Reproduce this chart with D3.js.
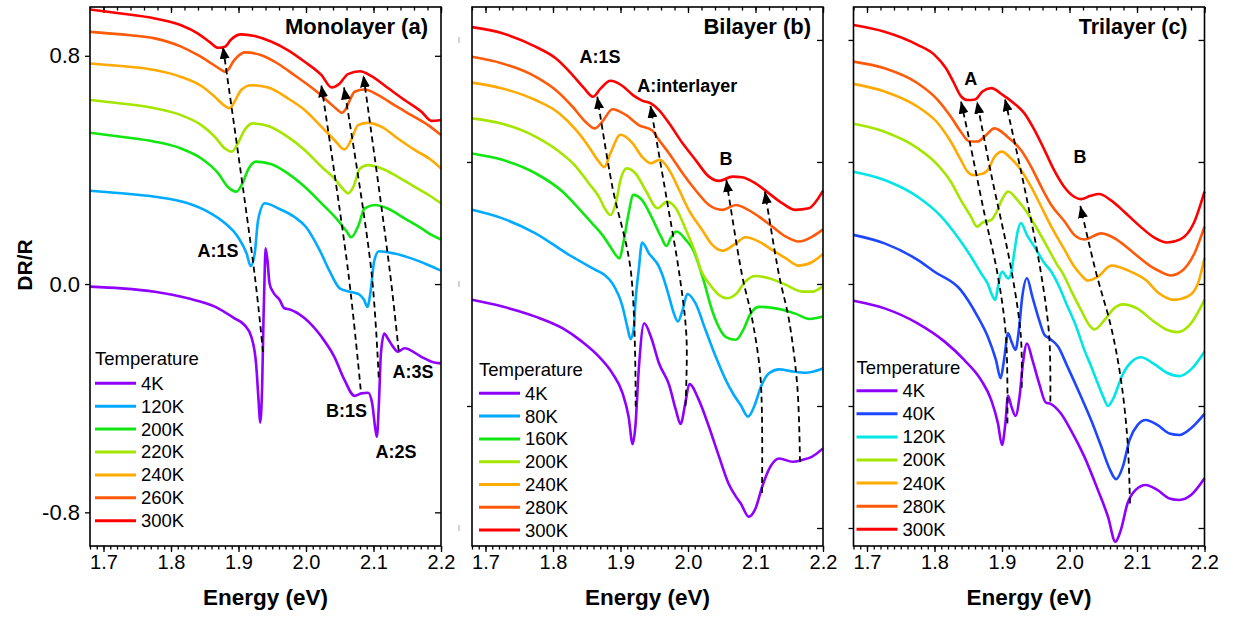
<!DOCTYPE html>
<html><head><meta charset="utf-8">
<script src="https://cdn.jsdelivr.net/npm/d3@7"></script>
<style>
body{margin:0;background:#fff;}
svg text{font-family:Arial,"Liberation Sans",sans-serif;}
</style>
</head><body>
<svg id="chart" width="1233" height="619"></svg>
<script>
// ---------- tick labels / categories ----------
const energyTicks = [1.7, 1.8, 1.9, 2.0, 2.1, 2.2];
const energyDomain = [1.68, 2.2];
const yTicksA = [0.8, 0.0, -0.8];
const yTicksBC = [0.8, 0.4, 0.0, -0.4, -0.8];
const yDomainA = [-0.918, 0.971];
const yDomainBC = [-0.859, 0.908];

const tempsA = ["4K", "120K", "200K", "220K", "240K", "260K", "300K"];
const tempsB = ["4K", "80K", "160K", "200K", "240K", "280K", "300K"];
const tempsC = ["4K", "40K", "120K", "200K", "240K", "280K", "300K"];
const colorsA = ["#8F00FF", "#00AAFF", "#10E610", "#A5E600", "#FFAA00", "#FF5A0A", "#FF0000"];
const colorsB = ["#8F00FF", "#00AAFF", "#10E610", "#A5E600", "#FFAA00", "#FF5A0A", "#FF0000"];
const colorsC = ["#8F00FF", "#1E46FF", "#00E6E6", "#A5E600", "#FFAA00", "#FF5A0A", "#FF0000"];

// ---------- Monolayer (a) series: [energy eV, DR/R] ----------
const mono4K = [[1.68,-0.009],[1.726,-0.015],[1.776,-0.027],[1.825,-0.05],[1.865,-0.079],[1.894,-0.12],[1.909,-0.144],[1.919,-0.185],[1.926,-0.278],[1.93,-0.418],[1.932,-0.486],[1.935,-0.36],[1.937,-0.126],[1.939,0.06],[1.94,0.125],[1.943,0.08],[1.946,0.002],[1.951,-0.027],[1.961,-0.056],[1.968,-0.085],[1.976,-0.089],[1.998,-0.12],[2.023,-0.185],[2.042,-0.255],[2.057,-0.336],[2.072,-0.392],[2.082,-0.383],[2.092,-0.381],[2.098,-0.418],[2.103,-0.512],[2.105,-0.535],[2.108,-0.418],[2.111,-0.243],[2.116,-0.173],[2.121,-0.19],[2.129,-0.22],[2.136,-0.237],[2.146,-0.225],[2.171,-0.255],[2.186,-0.272],[2.2,-0.278]];
const mono120K = [[1.68,0.327],[1.726,0.318],[1.776,0.306],[1.825,0.283],[1.855,0.253],[1.88,0.213],[1.899,0.166],[1.912,0.107],[1.918,0.063],[1.924,0.107],[1.929,0.224],[1.939,0.283],[1.959,0.265],[1.983,0.235],[2.0,0.2],[2.02,0.12],[2.035,0.045],[2.05,-0.015],[2.065,-0.027],[2.078,-0.035],[2.086,-0.055],[2.091,-0.08],[2.096,-0.02],[2.101,0.08],[2.108,0.115],[2.131,0.107],[2.156,0.09],[2.181,0.067],[2.2,0.047]];
const mono200K = [[1.68,0.53],[1.726,0.516],[1.776,0.499],[1.815,0.475],[1.845,0.44],[1.87,0.388],[1.884,0.341],[1.897,0.324],[1.907,0.359],[1.914,0.4],[1.926,0.429],[1.949,0.42],[1.973,0.388],[1.998,0.341],[2.023,0.283],[2.047,0.224],[2.06,0.185],[2.067,0.164],[2.077,0.201],[2.087,0.265],[2.102,0.277],[2.121,0.265],[2.146,0.23],[2.171,0.195],[2.186,0.172],[2.2,0.156]];
const mono220K = [[1.68,0.645],[1.726,0.633],[1.776,0.616],[1.815,0.592],[1.845,0.557],[1.865,0.516],[1.88,0.475],[1.89,0.464],[1.899,0.493],[1.909,0.54],[1.921,0.563],[1.944,0.554],[1.973,0.516],[1.998,0.47],[2.023,0.411],[2.042,0.37],[2.056,0.33],[2.062,0.318],[2.07,0.34],[2.08,0.405],[2.092,0.417],[2.112,0.405],[2.136,0.376],[2.161,0.341],[2.186,0.306],[2.2,0.283]];
const mono240K = [[1.68,0.773],[1.726,0.764],[1.776,0.75],[1.815,0.726],[1.845,0.694],[1.865,0.656],[1.88,0.624],[1.887,0.616],[1.894,0.639],[1.904,0.68],[1.919,0.697],[1.944,0.689],[1.973,0.651],[1.998,0.61],[2.023,0.551],[2.042,0.505],[2.057,0.472],[2.067,0.505],[2.077,0.557],[2.092,0.565],[2.112,0.551],[2.136,0.51],[2.161,0.47],[2.186,0.434],[2.2,0.405]];
const mono260K = [[1.68,0.884],[1.726,0.875],[1.776,0.861],[1.815,0.832],[1.84,0.802],[1.86,0.773],[1.875,0.75],[1.88,0.744],[1.886,0.755],[1.892,0.779],[1.9,0.8],[1.909,0.812],[1.934,0.802],[1.958,0.773],[1.983,0.732],[2.013,0.68],[2.033,0.639],[2.047,0.61],[2.053,0.6],[2.058,0.61],[2.064,0.64],[2.072,0.674],[2.087,0.682],[2.107,0.662],[2.131,0.627],[2.156,0.592],[2.181,0.557],[2.2,0.522]];
const mono300K = [[1.68,0.962],[1.726,0.948],[1.776,0.931],[1.815,0.907],[1.84,0.878],[1.857,0.849],[1.87,0.828],[1.88,0.832],[1.889,0.857],[1.904,0.875],[1.924,0.869],[1.949,0.849],[1.973,0.82],[1.998,0.779],[2.023,0.732],[2.038,0.689],[2.05,0.703],[2.062,0.736],[2.08,0.746],[2.097,0.729],[2.122,0.686],[2.146,0.645],[2.171,0.604],[2.186,0.572],[2.2,0.575]];

// ---------- Bilayer (b) series ----------
const bi4K = [[1.68,-0.052],[1.725,-0.074],[1.774,-0.107],[1.814,-0.145],[1.843,-0.189],[1.868,-0.238],[1.888,-0.293],[1.903,-0.358],[1.912,-0.435],[1.918,-0.525],[1.922,-0.468],[1.927,-0.282],[1.935,-0.129],[1.945,-0.173],[1.957,-0.26],[1.972,-0.331],[1.982,-0.413],[1.989,-0.459],[1.996,-0.391],[2.002,-0.328],[2.016,-0.38],[2.031,-0.468],[2.046,-0.566],[2.06,-0.654],[2.071,-0.697],[2.078,-0.719],[2.09,-0.763],[2.1,-0.736],[2.11,-0.664],[2.122,-0.599],[2.135,-0.572],[2.155,-0.583],[2.169,-0.577],[2.184,-0.566],[2.2,-0.539]];
const bi80K = [[1.68,0.243],[1.725,0.215],[1.774,0.166],[1.824,0.095],[1.863,0.046],[1.876,0.03],[1.888,0.002],[1.903,-0.074],[1.91,-0.14],[1.915,-0.181],[1.92,-0.14],[1.922,-0.063],[1.927,0.046],[1.932,0.136],[1.942,0.101],[1.957,0.057],[1.962,0.03],[1.972,-0.042],[1.979,-0.096],[1.985,-0.123],[1.992,-0.085],[1.999,-0.033],[2.011,-0.063],[2.026,-0.151],[2.041,-0.238],[2.056,-0.315],[2.068,-0.364],[2.078,-0.397],[2.089,-0.435],[2.098,-0.402],[2.108,-0.337],[2.12,-0.293],[2.135,-0.28],[2.155,-0.287],[2.174,-0.291],[2.2,-0.277]];
const bi160K = [[1.68,0.428],[1.725,0.407],[1.774,0.363],[1.814,0.303],[1.838,0.248],[1.858,0.199],[1.873,0.161],[1.885,0.122],[1.893,0.095],[1.898,0.084],[1.905,0.144],[1.912,0.232],[1.919,0.292],[1.932,0.275],[1.947,0.215],[1.96,0.155],[1.968,0.125],[1.975,0.153],[1.983,0.172],[1.997,0.144],[2.008,0.11],[2.022,0.02],[2.037,-0.095],[2.057,-0.175],[2.071,-0.183],[2.082,-0.15],[2.092,-0.1],[2.105,-0.075],[2.13,-0.08],[2.16,-0.098],[2.18,-0.115],[2.2,-0.107]];
const bi200K = [[1.68,0.543],[1.725,0.525],[1.774,0.483],[1.809,0.434],[1.834,0.385],[1.853,0.33],[1.868,0.286],[1.878,0.243],[1.885,0.226],[1.893,0.264],[1.9,0.341],[1.909,0.379],[1.922,0.363],[1.937,0.308],[1.955,0.248],[1.969,0.27],[1.982,0.248],[1.997,0.177],[2.011,0.101],[2.019,0.046],[2.031,0.002],[2.046,-0.036],[2.058,-0.047],[2.071,-0.033],[2.085,0.008],[2.1,0.026],[2.12,0.019],[2.145,-0.003],[2.169,-0.025],[2.184,-0.025],[2.2,-0.007]];
const bi240K = [[1.68,0.66],[1.725,0.641],[1.774,0.603],[1.809,0.56],[1.834,0.505],[1.853,0.45],[1.866,0.407],[1.876,0.383],[1.885,0.428],[1.9,0.489],[1.918,0.461],[1.932,0.417],[1.945,0.396],[1.958,0.407],[1.972,0.374],[1.987,0.308],[2.001,0.243],[2.021,0.177],[2.036,0.128],[2.051,0.109],[2.071,0.133],[2.085,0.153],[2.105,0.139],[2.125,0.111],[2.145,0.084],[2.164,0.06],[2.184,0.072],[2.2,0.098]];
const bi280K = [[1.68,0.745],[1.725,0.723],[1.774,0.68],[1.804,0.636],[1.829,0.581],[1.848,0.532],[1.862,0.51],[1.873,0.532],[1.888,0.573],[1.908,0.554],[1.927,0.521],[1.947,0.503],[1.957,0.472],[1.972,0.428],[1.992,0.363],[2.011,0.308],[2.031,0.259],[2.051,0.243],[2.071,0.259],[2.085,0.248],[2.105,0.221],[2.125,0.188],[2.145,0.155],[2.164,0.139],[2.184,0.155],[2.2,0.179]];
const bi300K = [[1.68,0.842],[1.725,0.822],[1.774,0.778],[1.804,0.74],[1.829,0.685],[1.846,0.642],[1.859,0.614],[1.871,0.642],[1.885,0.666],[1.903,0.649],[1.918,0.62],[1.932,0.601],[1.945,0.592],[1.957,0.57],[1.972,0.527],[1.992,0.461],[2.011,0.407],[2.031,0.352],[2.046,0.338],[2.066,0.352],[2.08,0.35],[2.1,0.33],[2.12,0.297],[2.14,0.264],[2.159,0.243],[2.179,0.248],[2.192,0.278],[2.2,0.306]];

// ---------- Trilayer (c) series ----------
const tri4K = [[1.68,-0.055],[1.726,-0.08],[1.775,-0.129],[1.815,-0.189],[1.844,-0.249],[1.869,-0.315],[1.884,-0.38],[1.894,-0.457],[1.9,-0.528],[1.905,-0.457],[1.909,-0.367],[1.914,-0.402],[1.92,-0.433],[1.926,-0.369],[1.931,-0.26],[1.937,-0.195],[1.945,-0.249],[1.955,-0.326],[1.965,-0.389],[1.972,-0.393],[1.987,-0.424],[2.002,-0.479],[2.022,-0.566],[2.042,-0.675],[2.057,-0.763],[2.068,-0.845],[2.076,-0.807],[2.086,-0.719],[2.098,-0.675],[2.113,-0.659],[2.13,-0.675],[2.148,-0.703],[2.163,-0.708],[2.18,-0.692],[2.2,-0.637]];
const tri40K = [[1.68,0.161],[1.726,0.133],[1.775,0.079],[1.8,0.04],[1.839,-0.02],[1.864,-0.107],[1.879,-0.173],[1.891,-0.249],[1.898,-0.309],[1.903,-0.249],[1.909,-0.162],[1.914,-0.189],[1.92,-0.216],[1.925,-0.151],[1.93,-0.042],[1.937,0.019],[1.945,-0.042],[1.955,-0.118],[1.963,-0.167],[1.97,-0.178],[1.983,-0.205],[1.997,-0.271],[2.017,-0.369],[2.032,-0.446],[2.047,-0.533],[2.059,-0.604],[2.069,-0.64],[2.079,-0.599],[2.089,-0.511],[2.101,-0.462],[2.113,-0.446],[2.13,-0.462],[2.148,-0.49],[2.163,-0.495],[2.18,-0.473],[2.2,-0.426]];
const tri120K = [[1.68,0.368],[1.726,0.341],[1.775,0.286],[1.81,0.221],[1.834,0.155],[1.854,0.09],[1.869,0.035],[1.879,0.0],[1.885,-0.035],[1.89,-0.052],[1.894,-0.01],[1.8975,0.03],[1.901,0.04],[1.905,0.028],[1.909,0.018],[1.913,0.03],[1.918,0.1],[1.923,0.17],[1.928,0.2],[1.937,0.16],[1.948,0.122],[1.963,0.068],[1.973,0.04],[1.985,-0.01],[1.995,-0.063],[2.01,-0.14],[2.022,-0.216],[2.032,-0.27],[2.042,-0.326],[2.05,-0.37],[2.057,-0.4],[2.065,-0.375],[2.078,-0.3],[2.092,-0.255],[2.106,-0.24],[2.125,-0.262],[2.145,-0.292],[2.163,-0.302],[2.18,-0.28],[2.2,-0.222]];
const tri200K = [[1.68,0.525],[1.726,0.499],[1.775,0.445],[1.805,0.39],[1.824,0.336],[1.839,0.275],[1.854,0.221],[1.863,0.188],[1.871,0.201],[1.884,0.21],[1.891,0.232],[1.901,0.281],[1.909,0.303],[1.923,0.275],[1.938,0.232],[1.953,0.177],[1.967,0.122],[1.982,0.062],[1.99,0.035],[2.002,-0.02],[2.017,-0.085],[2.029,-0.134],[2.037,-0.149],[2.052,-0.118],[2.066,-0.08],[2.079,-0.067],[2.1,-0.08],[2.125,-0.123],[2.145,-0.151],[2.16,-0.158],[2.18,-0.129],[2.2,-0.052]];
const tri240K = [[1.68,0.656],[1.726,0.631],[1.775,0.581],[1.805,0.527],[1.824,0.467],[1.839,0.407],[1.849,0.368],[1.857,0.357],[1.871,0.361],[1.879,0.374],[1.889,0.417],[1.9,0.434],[1.913,0.412],[1.928,0.374],[1.943,0.319],[1.958,0.254],[1.973,0.188],[1.993,0.111],[2.007,0.057],[2.017,0.03],[2.027,0.011],[2.042,0.024],[2.062,0.06],[2.091,0.04],[2.113,0.013],[2.133,-0.031],[2.155,-0.052],[2.176,-0.04],[2.19,0.0],[2.2,0.085]];
const tri280K = [[1.68,0.729],[1.726,0.707],[1.775,0.658],[1.805,0.603],[1.824,0.549],[1.839,0.499],[1.852,0.467],[1.864,0.467],[1.874,0.483],[1.889,0.51],[1.908,0.483],[1.928,0.439],[1.943,0.385],[1.958,0.319],[1.973,0.259],[1.993,0.204],[2.007,0.161],[2.022,0.146],[2.047,0.166],[2.071,0.144],[2.096,0.1],[2.121,0.057],[2.135,0.04],[2.15,0.028],[2.165,0.04],[2.185,0.1],[2.2,0.188]];
const tri300K = [[1.68,0.849],[1.726,0.827],[1.775,0.784],[1.8,0.751],[1.817,0.707],[1.829,0.658],[1.839,0.616],[1.849,0.603],[1.86,0.605],[1.871,0.631],[1.884,0.642],[1.901,0.62],[1.918,0.592],[1.933,0.56],[1.948,0.505],[1.963,0.439],[1.977,0.374],[1.992,0.319],[2.007,0.286],[2.017,0.278],[2.031,0.289],[2.044,0.295],[2.061,0.275],[2.081,0.237],[2.105,0.188],[2.125,0.153],[2.145,0.136],[2.164,0.146],[2.184,0.199],[2.2,0.303]];

// ---------- dashed guide arrows (bottom -> arrow tip) ----------
const arrowsA = [
  [[1.9363,-0.238],[1.924,0.0315],[1.877,0.831]],
  [[2.081,-0.369],[2.0622,0.049],[2.0227,0.697]],
  [[2.1077,-0.327],[2.0967,0.049],[2.0563,0.689]],
  [[2.1373,-0.234],[2.124,0.049],[2.085,0.732]]
];
const arrowsB = [
  [[1.9225,-0.402],[1.9151,0.046],[1.8879,0.319],[1.8656,0.614]],
  [[1.9963,-0.399],[1.9978,-0.177],[1.9881,0.019],[1.9684,0.279],[1.9444,0.584]],
  [[2.1096,-0.685],[2.1077,-0.315],[2.0953,-0.118],[2.08,0.03],[2.0568,0.341]],
  [[2.1659,-0.584],[2.162,-0.337],[2.1496,-0.118],[2.1348,0.03],[2.114,0.303]]
];
const arrowsC = [
  [[1.908,-0.457],[1.9059,-0.173],[1.8936,0.03],[1.8738,0.232],[1.8516,0.472],[1.8393,0.598]],
  [[1.9292,-0.34],[1.928,-0.173],[1.9145,0.038],[1.8837,0.363],[1.863,0.598]],
  [[1.9716,-0.385],[1.97,-0.173],[1.9578,0.035],[1.933,0.319],[1.9044,0.606]],
  [[2.0896,-0.72],[2.0862,-0.522],[2.0763,-0.315],[2.0615,-0.14],[2.0393,0.038],[2.016,0.256]]
];

// ---------- peak labels [text, energy, value] ----------
const notesA = [["A:1S",1.8696,0.095],["B:1S",2.06,-0.466],["A:2S",2.1333,-0.61],["A:3S",2.1585,-0.329]];
const notesB = [["A:1S",1.8696,0.725],["A:interlayer",1.999,0.63],["B",2.0563,0.39]];
const notesC = [["A",1.8536,0.6525],["B",2.0156,0.3967]];

// ---------- build ----------
const svg = d3.select("#chart");
const W = 351, yTop = 7, yBot = 546;

svg.append("defs").append("marker")
  .attr("id","ah").attr("viewBox","0 0 12 10").attr("refX",12).attr("refY",5)
  .attr("markerWidth",12).attr("markerHeight",10).attr("markerUnits","userSpaceOnUse")
  .attr("orient","auto")
  .append("path").attr("d","M0,0 L12,5 L0,10 Z").attr("fill","#000");

const panels = [
  {x0:90, yDomain:yDomainA, yTicks:yTicksA, yLabels:true, title:"Monolayer (a)", titlePad:13, titleSize:22,
   series:[mono4K,mono120K,mono200K,mono220K,mono240K,mono260K,mono300K], temps:tempsA, colors:colorsA,
   arrows:arrowsA, notes:notesA, leg:{x:5, ty:365, y:383.3, dy:22.9}, leftTicks:yTicksA, grey:[]},
  {x0:472, yDomain:yDomainBC, yTicks:yTicksBC, yLabels:false, title:"Bilayer (b)", titlePad:12, titleSize:22,
   series:[bi4K,bi80K,bi160K,bi200K,bi240K,bi280K,bi300K], temps:tempsB, colors:colorsB,
   arrows:arrowsB, notes:notesB, leg:{x:7, ty:375.5, y:393.3, dy:22.8}, leftTicks:[0.4,-0.4], grey:[0.8,0,-0.8]},
  {x0:853.5, yDomain:yDomainBC, yTicks:yTicksBC, yLabels:false, title:"Trilayer (c)", titlePad:17, titleSize:21.5,
   series:[tri4K,tri40K,tri120K,tri200K,tri240K,tri280K,tri300K], temps:tempsC, colors:colorsC,
   arrows:arrowsC, notes:notesC, leg:{x:3, ty:373.5, y:390.7, dy:23.1}, leftTicks:yTicksBC, grey:[]}
];

const minorBottom = d3.range(168, 221).map(d => d/100);
const minorTop = d3.range(84, 111).map(d => d/50);

panels.forEach(p => {
  const x = d3.scaleLinear().domain(energyDomain).range([p.x0, p.x0 + W]);
  const y = d3.scaleLinear().domain(p.yDomain).range([yBot, yTop]);
  const g = svg.append("g");

  g.append("g").attr("transform",`translate(0,${yBot})`)
    .call(d3.axisBottom(x).tickValues(minorBottom).tickSize(3.5).tickFormat(""))
    .call(a => a.select(".domain").remove());
  g.append("g").attr("transform",`translate(0,${yBot})`)
    .call(d3.axisBottom(x).tickValues(energyTicks).tickSize(6).tickPadding(3).tickFormat(d3.format(".1f")))
    .call(a => a.select(".domain").remove())
    .call(a => a.selectAll("text").attr("font-size","20px").attr("fill","#000"));
  g.append("g").attr("transform",`translate(0,${yTop})`)
    .call(d3.axisBottom(x).tickValues(minorTop).tickSize(3.5).tickFormat(""))
    .call(a => a.select(".domain").remove());
  g.append("g").attr("transform",`translate(0,${yTop})`)
    .call(d3.axisBottom(x).tickValues(energyTicks).tickSize(6).tickFormat(""))
    .call(a => a.select(".domain").remove());
  g.append("g").attr("transform",`translate(${p.x0},0)`)
    .call(d3.axisLeft(y).tickValues(p.leftTicks).tickSize(5).tickPadding(5)
      .tickFormat(p.yLabels ? (d => d.toFixed(1)) : ""))
    .call(a => a.select(".domain").remove())
    .call(a => a.selectAll("text").attr("font-size","22px").attr("fill","#000"));
  g.selectAll(".grey").data(p.grey).enter().append("line")
    .attr("x1", p.x0 - 13).attr("x2", p.x0 - 13)
    .attr("y1", d => y(d) - 3).attr("y2", d => y(d) + 3)
    .attr("stroke","#b5b5b5").attr("stroke-width",1.2);
  g.append("g").attr("transform",`translate(${p.x0 + W},0)`)
    .call(d3.axisLeft(y).tickValues(p.yTicks).tickSize(6).tickFormat(""))
    .call(a => a.select(".domain").remove());
  g.selectAll(".tick line").attr("stroke","#000").attr("stroke-width",1.3);

  const line = d3.line().x(d => x(d[0])).y(d => y(d[1])).curve(d3.curveMonotoneX);
  g.selectAll(".curve").data(p.series).enter().append("path")
    .attr("d", line).attr("fill","none")
    .attr("stroke", (d,i) => p.colors[i]).attr("stroke-width",2.6)
    .attr("stroke-linejoin","round");

  const aline = d3.line().x(d => x(d[0])).y(d => y(d[1])).curve(d3.curveCatmullRom.alpha(0.5));
  g.selectAll(".arrow").data(p.arrows).enter().append("path")
    .attr("d", aline).attr("fill","none").attr("stroke","#000")
    .attr("stroke-width",1.8).attr("stroke-dasharray","6,4")
    .attr("marker-end","url(#ah)");

  g.selectAll(".note").data(p.notes).enter().append("text")
    .attr("x", d => x(d[1])).attr("y", d => y(d[2]))
    .attr("text-anchor","middle").attr("font-size","18px").attr("font-weight","bold")
    .text(d => d[0]);

  g.append("rect").attr("x",p.x0).attr("y",yTop).attr("width",W).attr("height",yBot-yTop)
    .attr("fill","none").attr("stroke","#000").attr("stroke-width",1.6);

  g.append("text").attr("x", p.x0 + W - p.titlePad).attr("y", 34)
    .attr("text-anchor","end").attr("font-size", p.titleSize + "px").attr("font-weight","bold").text(p.title);

  const L = p.leg;
  g.append("text").attr("x", p.x0 + L.x).attr("y", L.ty).attr("font-size","18.5px").text("Temperature");
  const items = g.selectAll(".leg").data(p.temps).enter().append("g")
    .attr("transform",(d,i) => `translate(${p.x0 + L.x},${L.y + i*L.dy})`);
  items.append("line").attr("x1",0).attr("x2",41).attr("y1",0).attr("y2",0)
    .attr("stroke",(d,i) => p.colors[i]).attr("stroke-width",3);
  items.append("text").attr("x",46).attr("y",0).attr("dy","0.35em")
    .attr("font-size","18.5px").text(d => d);

  g.append("text").attr("x", p.x0 + W/2).attr("y", 605).attr("text-anchor","middle")
    .attr("font-size","22.5px").attr("font-weight","bold").text("Energy (eV)");
});

svg.append("text").attr("transform","translate(32,265) rotate(-90)")
  .attr("text-anchor","middle").attr("font-size","21px").attr("font-weight","bold").text("DR/R");
</script>
</body></html>
